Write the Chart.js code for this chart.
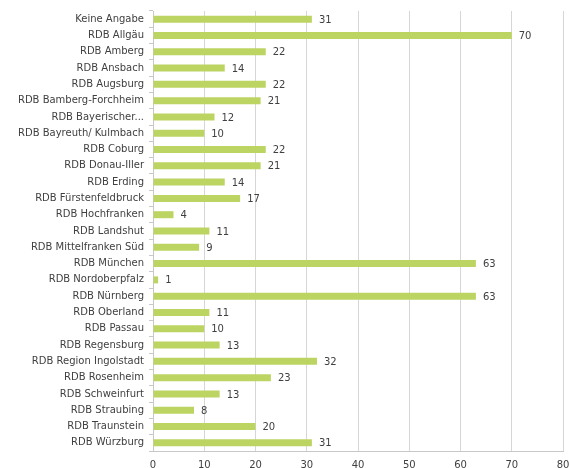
<html>
<head>
<meta charset="UTF-8"/>
<style>
html, body {
 width: 100%;
 height: 100%;
 margin: 0px;
 border: 0;
 overflow: hidden;
 display: block;
 background-color: #ffffff;
}
</style>
<script src="https://cdn.jsdelivr.net/npm/chart.js@4.4.1/dist/chart.umd.min.js"></script>
<script type="text/javascript">
var categories = ['Keine Angabe', 'RDB Allgäu', 'RDB Amberg', 'RDB Ansbach', 'RDB Augsburg',
    'RDB Bamberg-Forchheim', 'RDB Bayerischer...', 'RDB Bayreuth/ Kulmbach', 'RDB Coburg',
    'RDB Donau-Iller', 'RDB Erding', 'RDB Fürstenfeldbruck', 'RDB Hochfranken', 'RDB Landshut',
    'RDB Mittelfranken Süd', 'RDB München', 'RDB Nordoberpfalz', 'RDB Nürnberg', 'RDB Oberland',
    'RDB Passau', 'RDB Regensburg', 'RDB Region Ingolstadt', 'RDB Rosenheim', 'RDB Schweinfurt',
    'RDB Straubing', 'RDB Traunstein', 'RDB Würzburg'];
var values = [31, 70, 22, 14, 22, 21, 12, 10, 22, 21, 14, 17, 4, 11, 9, 63, 1, 63, 11, 10, 13, 32, 23, 13, 8, 20, 31];
var xTicks = [0, 10, 20, 30, 40, 50, 60, 70, 80];

var FONT = 'Verdana, "DejaVu Sans", sans-serif';

// draws the number right of each bar
var valueLabels = {
    id: 'valueLabels',
    afterDatasetsDraw: function(chart) {
        var ctx = chart.ctx;
        var meta = chart.getDatasetMeta(0);
        ctx.save();
        ctx.font = '10px ' + FONT;
        ctx.fillStyle = '#404040';
        ctx.textBaseline = 'middle';
        ctx.textAlign = 'left';
        meta.data.forEach(function(bar, i) {
            ctx.fillText(String(values[i]), bar.x + 7, bar.y + 1);
        });
        ctx.restore();
    }
};

function init() {
    var ctx = document.getElementById('myChart').getContext('2d');
    new Chart(ctx, {
        type: 'bar',
        data: {
            labels: categories,
            datasets: [{
                data: values,
                backgroundColor: '#bcd462',
                borderWidth: 0,
                barPercentage: 0.43,
                categoryPercentage: 1.0
            }]
        },
        plugins: [valueLabels],
        options: {
            indexAxis: 'y',
            responsive: false,
            animation: false,
            layout: { padding: { top: 9, right: 0, left: 0, bottom: 0 } },
            plugins: {
                legend: { display: false },
                tooltip: { enabled: false }
            },
            scales: {
                x: {
                    min: 0,
                    max: 80,
                    afterBuildTicks: function(axis) {
                        axis.ticks = xTicks.map(function(v) { return { value: v }; });
                    },
                    grid: {
                        color: '#d6d6d6',
                        drawTicks: false
                    },
                    border: { color: '#c8c8c8' },
                    ticks: {
                        color: '#404040',
                        font: { family: FONT, size: 10 },
                        padding: 8
                    },
                    afterFit: function(axis) {
                        axis.height = 17;
                        axis.paddingLeft = 0;
                        axis.paddingRight = 6;
                    }
                },
                y: {
                    grid: {
                        display: true,
                        drawOnChartArea: false,
                        drawTicks: true,
                        tickLength: 4,
                        offset: true,
                        color: '#c8c8c8'
                    },
                    border: { color: '#c8c8c8' },
                    ticks: {
                        color: '#404040',
                        font: { family: FONT, size: 10 },
                        padding: 5,
                        autoSkip: false
                    },
                    afterFit: function(axis) { axis.width = 153; }
                }
            }
        }
    });
}
</script>
<title>Chart</title>
</head>
<body onload="init();">
<canvas id="myChart" width="569" height="468"></canvas>
</body>
</html>
